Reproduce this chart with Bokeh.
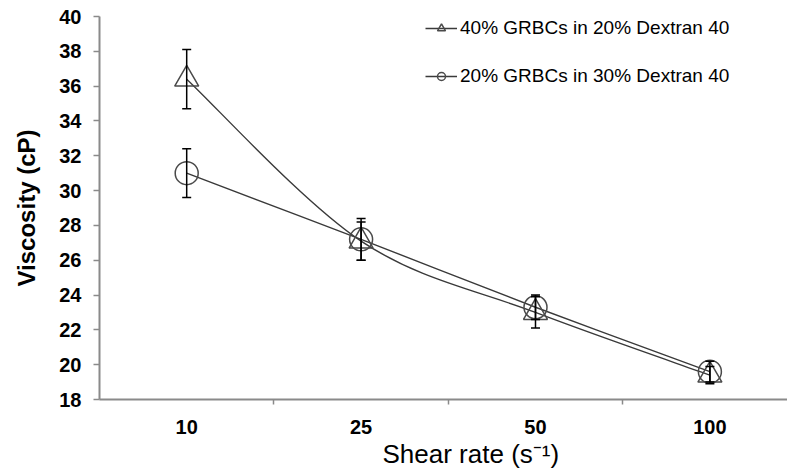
from bokeh.plotting import figure
from bokeh.models import (ColumnDataSource, Whisker, TeeHead, FixedTicker, Range1d,
                          Legend, LegendItem, Title)
from bokeh.embed import file_html
from bokeh.resources import INLINE

# ---- data ----
categories = ["10", "25", "50", "100"]
tri_values = [36.4, 27.1, 23.0, 19.4]
tri_errors = [1.7, 1.1, 0.9, 0.5]
cir_values = [31.0, 27.2, 23.3, 19.6]
cir_errors = [1.4, 1.2, 0.7, 0.6]
y_ticks = list(range(18, 41, 2))
tri_label = "40% GRBCs in 20% Dextran 40"
cir_label = "20% GRBCs in 30% Dextran 40"
x_title = "Shear rate (s\u207b\u00b9)"
y_title = "Viscosity (cP)"

positions = list(range(1, len(categories) + 1))
boundaries = [p_ + 0.5 for p_ in positions[:-1]]

FONT = "Liberation Sans"
LINE_C = "#3a3a3a"
MARK_C = "#4a4a4a"
AXIS_C = "#8a8a8a"

p = figure(width=787, height=468, output_backend="svg", toolbar_location=None,
           x_range=Range1d(0.5, 4.445), y_range=Range1d(18, 40),
           min_border_left=99, min_border_right=0, min_border_top=16, min_border_bottom=69)
p.outline_line_color = None
p.xgrid.grid_line_color = None
p.ygrid.grid_line_color = None


def smooth_segments(xs, ys):
    n = len(xs)
    out = dict(x0=[], y0=[], x1=[], y1=[], cx0=[], cy0=[], cx1=[], cy1=[])
    for i in range(n - 1):
        xp, yp = (xs[i - 1], ys[i - 1]) if i > 0 else (xs[i], ys[i])
        xn, yn = (xs[i + 2], ys[i + 2]) if i + 2 < n else (xs[i + 1], ys[i + 1])
        out["x0"].append(xs[i]); out["y0"].append(ys[i])
        out["x1"].append(xs[i + 1]); out["y1"].append(ys[i + 1])
        out["cx0"].append(xs[i] + (xs[i + 1] - xp) / 6.0)
        out["cy0"].append(ys[i] + (ys[i + 1] - yp) / 6.0)
        out["cx1"].append(xs[i + 1] - (xn - xs[i]) / 6.0)
        out["cy1"].append(ys[i + 1] - (yn - ys[i]) / 6.0)
    return ColumnDataSource(out)


tri_line = p.bezier(x0="x0", y0="y0", x1="x1", y1="y1", cx0="cx0", cy0="cy0",
                    cx1="cx1", cy1="cy1", source=smooth_segments(positions, tri_values),
                    line_color=LINE_C, line_width=1.4)
cir_line = p.bezier(x0="x0", y0="y0", x1="x1", y1="y1", cx0="cx0", cy0="cy0",
                    cx1="cx1", cy1="cy1", source=smooth_segments(positions, cir_values),
                    line_color=LINE_C, line_width=1.4)

tri_src = ColumnDataSource(dict(x=positions, y=tri_values,
                                upper=[v + e for v, e in zip(tri_values, tri_errors)],
                                lower=[v - e for v, e in zip(tri_values, tri_errors)]))
cir_src = ColumnDataSource(dict(x=positions, y=cir_values,
                                upper=[v + e for v, e in zip(cir_values, cir_errors)],
                                lower=[v - e for v, e in zip(cir_values, cir_errors)]))

tri_mark = p.scatter("x", "y", source=tri_src, marker="triangle", size=24,
                     fill_color=None, line_color=MARK_C, line_width=1.5)
cir_mark = p.scatter("x", "y", source=cir_src, marker="circle", size=23,
                     fill_color=None, line_color=MARK_C, line_width=1.5)

for src in (tri_src, cir_src):
    w = Whisker(base="x", upper="upper", lower="lower", source=src,
                line_color="black", line_width=1.5, level="annotation",
                upper_head=TeeHead(size=9, line_color="black", line_width=1.5),
                lower_head=TeeHead(size=9, line_color="black", line_width=1.5))
    p.add_layout(w)

# axes
p.xaxis.ticker = FixedTicker(ticks=positions, minor_ticks=boundaries)
p.xaxis.major_label_overrides = {pos: c for pos, c in zip(positions, categories)}
p.xaxis.major_tick_out = 0
p.xaxis.major_tick_in = 0
p.xaxis.minor_tick_out = 5
p.xaxis.minor_tick_in = 0
p.xaxis.major_label_standoff = 15
p.yaxis.ticker = FixedTicker(ticks=y_ticks)
p.yaxis.major_tick_out = 6
p.yaxis.major_tick_in = 0
p.yaxis.major_label_standoff = 12
for ax in (p.xaxis, p.yaxis):
    ax.axis_line_color = AXIS_C
    ax.axis_line_width = 2
    ax.major_tick_line_color = AXIS_C
    ax.major_tick_line_width = 1.5
    ax.minor_tick_line_color = AXIS_C
    ax.minor_tick_line_width = 1.5
    ax.major_label_text_font = FONT
    ax.major_label_text_font_size = "20px"
    ax.major_label_text_font_style = "bold"
    ax.major_label_text_color = "black"
p.yaxis.minor_tick_line_color = None

p.yaxis.axis_label = y_title
p.yaxis.axis_label_text_font = FONT
p.yaxis.axis_label_text_font_size = "24px"
p.yaxis.axis_label_text_font_style = "bold"
p.yaxis.axis_label_text_color = "black"
p.yaxis.axis_label_standoff = 16

p.add_layout(Title(text=x_title, align="left", offset=283, standoff=0,
                   text_font=FONT, text_font_size="26px", text_font_style="normal",
                   text_color="black"), "below")

legend = Legend(items=[LegendItem(label=tri_label, renderers=[tri_line, tri_mark]),
                       LegendItem(label=cir_label, renderers=[cir_line, cir_mark])],
                location=(326, 312), border_line_color=None, background_fill_alpha=0,
                padding=0, margin=0, spacing=26, glyph_width=32, glyph_height=20,
                label_height=20, label_standoff=3, label_text_font=FONT,
                label_text_font_size="19px", label_text_color="black")
p.add_layout(legend)

open("out.html", "w").write(file_html(p, INLINE))
